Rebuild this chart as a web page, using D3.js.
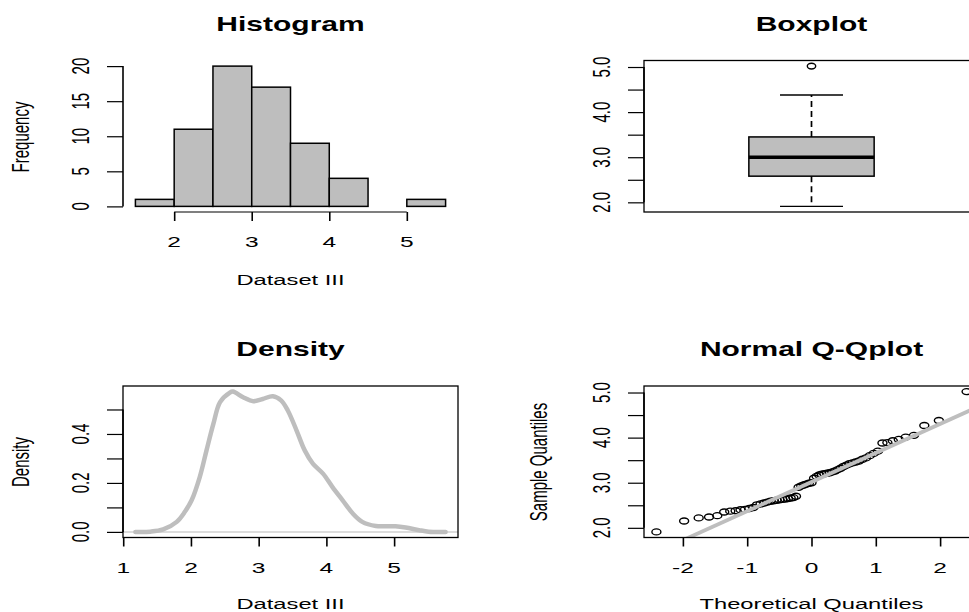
<!DOCTYPE html>
<html>
<head>
<meta charset="utf-8">
<script src="https://cdn.jsdelivr.net/npm/d3@7"></script>
<style>
  body { margin: 0; background: #fff; }
  svg { display: block; }
</style>
</head>
<body>
<div id="chart"></div>
<script>
// sorted sample values (Dataset III)
const sample = [1.91, 2.15, 2.22, 2.24, 2.27, 2.35, 2.37, 2.38, 2.40, 2.41,
  2.43, 2.45, 2.51, 2.53, 2.55, 2.57, 2.59, 2.60, 2.61, 2.62,
  2.63, 2.64, 2.65, 2.66, 2.67, 2.70, 2.90, 2.93, 2.95, 2.97,
  2.99, 3.00, 3.10, 3.14, 3.17, 3.19, 3.20, 3.21, 3.22, 3.24,
  3.26, 3.29, 3.32, 3.36, 3.39, 3.42, 3.44, 3.46, 3.48, 3.52,
  3.55, 3.60, 3.65, 3.70, 3.88, 3.89, 3.93, 3.96, 4.01, 4.05,
  4.27, 4.38, 5.02];

// histogram
const histBreaks = [1.5, 2, 2.5, 3, 3.5, 4, 4.5, 5, 5.5];
const histCounts = [1, 11, 20, 17, 9, 4, 0, 1];
const histXTicks = [2, 3, 4, 5];
const histYTicks = [0, 5, 10, 15, 20];

// boxplot
const boxYTicks = [2, 2.5, 3, 3.5, 4, 4.5, 5];
const boxYLabels = ["2.0", "", "3.0", "", "4.0", "", "5.0"];

// density curve
const densX = [1.18, 1.40, 1.59, 1.79, 1.91, 2.01, 2.13, 2.23, 2.33, 2.43, 2.57, 2.62,
  2.77, 2.92, 3.06, 3.21, 3.33, 3.43, 3.56, 3.68, 3.80, 3.95, 4.09, 4.24,
  4.39, 4.53, 4.73, 4.88, 5.02, 5.17, 5.37, 5.51, 5.76];
const densY = [0.0, 0.001, 0.01, 0.041, 0.082, 0.129, 0.224, 0.333, 0.44, 0.53, 0.568, 0.573,
  0.55, 0.534, 0.543, 0.554, 0.537, 0.496, 0.414, 0.333, 0.279, 0.238, 0.183, 0.129,
  0.075, 0.041, 0.024, 0.023, 0.023, 0.018, 0.007, 0.001, 0.0];
const densXTicks = [1, 2, 3, 4, 5];
const densYTicks = [0, 0.1, 0.2, 0.3, 0.4, 0.5];
const densYLabels = ["0.0", "", "0.2", "", "0.4", ""];

// q-q plot
const qqXTicks = [-2, -1, 0, 1, 2];
const qqYTicks = [2, 2.5, 3, 3.5, 4, 4.5, 5];
const qqYLabels = ["2.0", "", "3.0", "", "4.0", "", "5.0"];

const W = 969, H = 612;
const SX = 1.58;      // the picture is stretched sideways
const SX_TITLE = 1.5;
const FONT = "'Liberation Sans', Arial, sans-serif";
const GRAY = "#bebebe";

const svg = d3.select("#chart").append("svg")
  .attr("width", W).attr("height", H);

// plot regions
const colL = [123, 458], colR = [644, 979];
const rowT = [212, 60.5], rowB = [537.5, 386];

// R pads the data range by 4%
const pad = ext => {
  const d = (ext[1] - ext[0]) * 0.04;
  return [ext[0] - d, ext[1] + d];
};

function label(str, x, y, size, weight, rot) {
  const sx = weight === "bold" ? SX_TITLE : SX;
  svg.append("text")
    .attr("transform", `translate(${x},${y}) scale(${sx},1)` + (rot ? ` rotate(${rot})` : ""))
    .attr("text-anchor", "middle")
    .attr("font-family", FONT)
    .attr("font-size", size)
    .attr("font-weight", weight || "normal")
    .attr("fill", "#000")
    .text(str);
}

function yAxis(scale, x, ticks, labels) {
  const g = svg.append("g")
    .attr("transform", `translate(${x},0)`)
    .attr("color", "#000")
    .call(d3.axisLeft(scale).tickValues(ticks).tickSize(16).tickSizeOuter(0).tickFormat(""));
  g.select(".domain").remove();
  g.selectAll(".tick line").attr("stroke-width", 1.2);
  g.append("line")
    .attr("y1", scale(ticks[0])).attr("y2", scale(ticks[ticks.length - 1]))
    .attr("stroke", "#000").attr("stroke-width", 1.6);
  ticks.forEach((t, i) => {
    if (labels[i]) label(labels[i], x - 34, scale(t), 15, "normal", -90);
  });
}

function xAxis(scale, y, ticks, labels) {
  const g = svg.append("g")
    .attr("transform", `translate(0,${y})`)
    .attr("color", "#000")
    .call(d3.axisBottom(scale).tickValues(ticks).tickSize(9).tickSizeOuter(0).tickFormat(""));
  g.select(".domain").remove();
  g.selectAll(".tick line").attr("stroke-width", 1.6);
  g.append("line")
    .attr("x1", scale(ticks[0])).attr("x2", scale(ticks[ticks.length - 1]))
    .attr("stroke", "#000").attr("stroke-width", 1.2);
  ticks.forEach((t, i) => label(labels[i], scale(t), y + 35, 15.5));
}

function frame(cx, cy) {
  svg.append("rect")
    .attr("x", cx[0]).attr("y", cy[1])
    .attr("width", cx[1] - cx[0]).attr("height", cy[0] - cy[1])
    .attr("fill", "none").attr("stroke", "#000").attr("stroke-width", 1.3);
}

// ---------- Histogram ----------
{
  const x = d3.scaleLinear(pad([histBreaks[0], histBreaks[histBreaks.length - 1]]), colL);
  const y = d3.scaleLinear(pad([0, d3.max(histCounts)]), rowT);
  const bins = histCounts.map((c, i) => ({ x0: histBreaks[i], x1: histBreaks[i + 1], n: c }));
  svg.append("g").selectAll("rect").data(bins).join("rect")
    .attr("x", d => x(d.x0)).attr("width", d => x(d.x1) - x(d.x0))
    .attr("y", d => y(d.n)).attr("height", d => y(0) - y(d.n))
    .attr("fill", GRAY).attr("stroke", "#000").attr("stroke-width", 1.5);
  yAxis(y, colL[0], histYTicks, histYTicks.map(String));
  xAxis(x, rowT[0], histXTicks, histXTicks.map(String));
  label("Histogram", 290.5, 30.5, 20, "bold");
  label("Dataset III", 290.5, 285, 15);
  label("Frequency", 28.5, 137, 15, "normal", -90);
}

// ---------- Boxplot ----------
{
  const y = d3.scaleLinear(pad(d3.extent(sample)), rowT);
  const x = d3.scaleLinear([0.5, 1.5], colR);
  const q1 = d3.quantile(sample, 0.25), med = d3.quantile(sample, 0.5), q3 = d3.quantile(sample, 0.75);
  const iqr = q3 - q1;
  const lo = d3.min(sample.filter(v => v >= q1 - 1.5 * iqr));
  const hi = d3.max(sample.filter(v => v <= q3 + 1.5 * iqr));
  const outliers = sample.filter(v => v < lo || v > hi);
  const hw = 0.187, sw = 0.094;
  const g = svg.append("g");
  g.append("rect")
    .attr("x", x(1 - hw)).attr("width", x(1 + hw) - x(1 - hw))
    .attr("y", y(q3)).attr("height", y(q1) - y(q3))
    .attr("fill", GRAY).attr("stroke", "#000").attr("stroke-width", 1.5);
  g.append("line").attr("x1", x(1 - hw)).attr("x2", x(1 + hw))
    .attr("y1", y(med)).attr("y2", y(med)).attr("stroke", "#000").attr("stroke-width", 3.5);
  [[q3, hi], [q1, lo]].forEach(([a, b]) => {
    g.append("line").attr("x1", x(1)).attr("x2", x(1)).attr("y1", y(a)).attr("y2", y(b))
      .attr("stroke", "#000").attr("stroke-width", 1.7).attr("stroke-dasharray", "6,4");
    g.append("line").attr("x1", x(1 - sw)).attr("x2", x(1 + sw)).attr("y1", y(b)).attr("y2", y(b))
      .attr("stroke", "#000").attr("stroke-width", 1.3);
  });
  g.selectAll("ellipse").data(outliers).join("ellipse")
    .attr("cx", x(1)).attr("cy", d => y(d)).attr("rx", 4.2).attr("ry", 2.9)
    .attr("fill", "none").attr("stroke", "#000").attr("stroke-width", 1.4);
  frame(colR, rowT);
  yAxis(y, colR[0], boxYTicks, boxYLabels);
  label("Boxplot", 811.5, 30.5, 20, "bold");
}

// ---------- Density ----------
{
  const x = d3.scaleLinear(pad(d3.extent(densX)), colL);
  const y = d3.scaleLinear(pad([0, d3.max(densY)]), rowB);
  svg.append("line").attr("x1", colL[0]).attr("x2", colL[1])
    .attr("y1", y(0)).attr("y2", y(0)).attr("stroke", "#d0d0d0").attr("stroke-width", 1.5);
  const line = d3.line().x((d, i) => x(densX[i])).y(d => y(d)).curve(d3.curveCatmullRom);
  svg.append("path").attr("d", line(densY))
    .attr("fill", "none").attr("stroke", GRAY).attr("stroke-width", 4.5)
    .attr("stroke-linejoin", "round").attr("stroke-linecap", "round");
  frame(colL, rowB);
  yAxis(y, colL[0], densYTicks, densYLabels);
  xAxis(x, rowB[0], densXTicks, densXTicks.map(String));
  label("Density", 290.5, 356, 20, "bold");
  label("Dataset III", 290.5, 609, 15);
  label("Density", 28.5, 462, 15, "normal", -90);
}

// ---------- Normal Q-Q plot ----------
// inverse normal CDF (Acklam) for the theoretical quantiles
function qnorm(p) {
  const a = [-39.69683028665376, 220.9460984245205, -275.9285104469687, 138.3577518672690, -30.66479806614716, 2.506628277459239];
  const b = [-54.47609879822406, 161.5858368580409, -155.6989798598866, 66.80131188771972, -13.28068155288572];
  const c = [-0.007784894002430293, -0.3223964580411365, -2.400758277161838, -2.549732539343734, 4.374664141464968, 2.938163982698783];
  const d = [0.007784695709041462, 0.3224671290700398, 2.445134137142996, 3.754408661907416];
  const tail = q => (((((c[0] * q + c[1]) * q + c[2]) * q + c[3]) * q + c[4]) * q + c[5]) /
    ((((d[0] * q + d[1]) * q + d[2]) * q + d[3]) * q + 1);
  if (p < 0.02425) return tail(Math.sqrt(-2 * Math.log(p)));
  if (p > 1 - 0.02425) return -tail(Math.sqrt(-2 * Math.log(1 - p)));
  const q = p - 0.5, r = q * q;
  return (((((a[0] * r + a[1]) * r + a[2]) * r + a[3]) * r + a[4]) * r + a[5]) * q /
    (((((b[0] * r + b[1]) * r + b[2]) * r + b[3]) * r + b[4]) * r + 1);
}
{
  const n = sample.length;
  const theo = sample.map((v, i) => qnorm((i + 0.5) / n));
  const x = d3.scaleLinear(pad(d3.extent(theo)), colR);
  const y = d3.scaleLinear(pad(d3.extent(sample)), rowB);

  svg.append("clipPath").attr("id", "qqclip").append("rect")
    .attr("x", colR[0]).attr("y", rowB[1])
    .attr("width", colR[1] - colR[0]).attr("height", rowB[0] - rowB[1]);

  svg.append("g").selectAll("ellipse").data(sample).join("ellipse")
    .attr("cx", (d, i) => x(theo[i])).attr("cy", d => y(d))
    .attr("rx", 4.5).attr("ry", 3)
    .attr("fill", "none").attr("stroke", "#000").attr("stroke-width", 1.4);

  // qqline through the quartiles
  const q1 = d3.quantile(sample, 0.25), q3 = d3.quantile(sample, 0.75);
  const slope = (q3 - q1) / (qnorm(0.75) - qnorm(0.25));
  const icpt = q1 - slope * qnorm(0.25);
  const [t0, t1] = x.domain();
  svg.append("line").attr("clip-path", "url(#qqclip)")
    .attr("x1", x(t0)).attr("y1", y(icpt + slope * t0))
    .attr("x2", x(t1)).attr("y2", y(icpt + slope * t1))
    .attr("stroke", GRAY).attr("stroke-width", 3.8);

  frame(colR, rowB);
  yAxis(y, colR[0], qqYTicks, qqYLabels);
  xAxis(x, rowB[0], qqXTicks, qqXTicks.map(String));
  label("Normal Q-Qplot", 811.5, 356, 20, "bold");
  label("Theoretical Quantiles", 811.5, 609, 15);
  label("Sample Quantiles", 546.5, 462, 15, "normal", -90);
}
</script>
</body>
</html>
